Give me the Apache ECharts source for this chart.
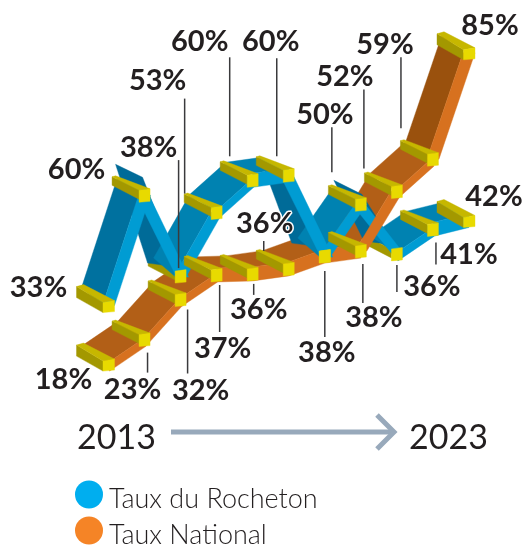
<!DOCTYPE html>
<html><head><meta charset="utf-8">
<style>html,body{margin:0;padding:0;background:#fff}#c{width:524px;height:547px}</style>
<script src="https://cdn.jsdelivr.net/npm/echarts@6/dist/echarts.min.js"></script>
</head><body><div id="c"></div>
<script>
// ---- data ----
const years = [2013,2014,2015,2016,2017,2018,2019,2020,2021,2022,2023];
const tauxRocheton = [33,60,38,53,60,60,38,50,36,41,42];
const tauxNational = [18,23,32,37,36,36,38,38,52,59,85];
const seriesNames = ['Taux du Rocheton','Taux National'];
const firstYearLabel = '2013', lastYearLabel = '2023';

// ---- layout (pixel offsets from each node, not data) ----
const labelOffsetsBlue = [[-70,-19],[-68,-27],[-32,-129],[-59,-133],[-53,-140],[-18,-135],[2,96],[-36,-91],[35,32],[36,24],[25,-25]];
const labelOffsetsOrange = [[-45,15],[-12,49],[20,90],[6,73],[6,35],[-24,-46],null,[13,66],[-52,-116],[-48,-116],[21,-28]];
const leadersBlue = [null,null,[-2,-117,-9],[-32,-115,-20],[-23,-124,-25],[-12,-118,-20],[0,14,80],[-29,-78,-33],[0,10,37],[3,12,34],null];
const leadersOrange = [null,[3,12,32],[7,9,73],[3,9,56],[1,9,20],[-25,-29,-19],null,[2,12,51],[-33,-103,-24],[-32,-103,-32],null];

const drift = 1.282;            // oblique projection: the floor climbs with each year
const FACE_BACK = [-27,-19];
const palette = {
  blue:  {face:'#0082B1', steep:'#00719F', back:'#006B98', strip:'#009CD3', legend:'#00AEEF'},
  orange:{face:'#B25F17', steep:'#9A510D', back:'#9A510D', strip:'#D7711F', legend:'#F58426'}
};
const FONT = 'Lato';

function add(p,o){return [p[0]+o[0],p[1]+o[1]];}
function poly(points,fill,z2){
  return {type:'polygon',z2:z2,silent:true,shape:{points:points},style:{fill:fill,stroke:fill,lineWidth:0.4}};
}
function makeRender(values,other,key,labels,leaders,isBlue){
  const col = palette[key];
  return function(params,api){
    const i = params.dataIndex, x = api.value(0), v = api.value(1);
    const pt = k => api.coord([k, values[k] + k*drift]);
    const C = pt(x);
    const out = [];
    const dyOf = k => pt(k+1)[1] - pt(k)[1];
    if(i < values.length-1){
      const Q = pt(x+1), dy = dyOf(i), rise = -dy;
      if(dy > 14){
        const prevRise = i>0 ? -dyOf(i-1) : 0;
        let s1 = [-27,-14], s2 = [-2,-4];
        if(prevRise > 80){ s1 = [-29,-32]; s2 = [-2,-19]; }
        else if(prevRise > 30){ s1 = [-27,-25]; s2 = [1,-11]; }
        out.push(poly([add(C,s1),add(C,s2),add(Q,[-3,-10]),add(Q,[-33,-14])],col.back,isBlue?10:4));
        out.push(poly([add(C,[-8,0]),add(Q,[-4,0]),add(Q,[8,0]),add(C,[5,0])],col.strip,isBlue?13:6));
      } else {
        let F, T;
        if(rise <= 14){ F=[0,-8]; T=[0,14]; }
        else if(rise < 50){ F=[-1,-2]; T=[2,8]; }
        else { F=[-6,-1]; T=[12,0]; }
        out.push(poly([add(C,FACE_BACK),add(Q,FACE_BACK),add(Q,F),add(C,F)],rise>80?col.steep:col.face,isBlue?11:5));
        const z = isBlue?12:(i>=7?14:6);
        out.push(poly([add(C,F),add(Q,F),add(add(Q,F),T),add(add(C,F),T)],col.strip,z));
      }
    }
    const shared = other[i] === values[i];
    const isEnd = i===0 || i===values.length-1;
    const afterFall = i>0 && dyOf(i-1) > 14;
    if(!shared){
      const zb = afterFall ? 9 : 20;
      if(isEnd){
        out.push(poly([add(C,[-5.5,-4]),add(C,[-5.5,6]),add(C,[-32,-9]),add(C,[-32,-20])],'#A39800',zb));
        out.push(poly([add(C,[-32,-20]),add(C,[-25,-22]),add(C,[6,-6]),add(C,[-5.5,-4])],'#C6B700',zb));
      } else {
        out.push(poly([add(C,[-5.5,-6]),add(C,[-5.5,3]),add(C,[-32.5,-11]),add(C,[-32.5,-19.5])],'#A39800',zb));
        out.push(poly([add(C,[-32.5,-19.5]),add(C,[-29,-20.5]),add(C,[5.5,-7.5]),add(C,[-5.5,-6])],'#C6B700',zb));
      }
    }
    out.push(poly(isEnd ? [add(C,[-5.5,-4]),add(C,[6,-6]),add(C,[6,5]),add(C,[-5.5,6])]
                        : [add(C,[-5.5,-6]),add(C,[5.5,-7.5]),add(C,[5.5,5]),add(C,[-5.5,6])],'#E8DA00',21));
    const lead = leaders[i];
    if(lead){
      out.push({type:'line',z2:25,silent:true,shape:{x1:C[0]+lead[0],y1:C[1]+lead[1],x2:C[0]+lead[0],y2:C[1]+lead[2]},style:{stroke:'#3A3A3C',lineWidth:1.5}});
    }
    const lab = labels[i];
    if(lab){
      out.push({type:'text',z2:26,silent:true,style:{x:C[0]+lab[0],y:C[1]+lab[1],text:v+'%',fill:'#231F20',fontFamily:FONT,fontWeight:'bold',fontSize:29,align:'center',verticalAlign:'middle',stroke:'#fff',lineWidth:3}});
    }
    return {type:'group',children:out};
  };
}
const chart = echarts.init(document.getElementById('c'),null,{renderer:'canvas'});
chart.setOption({
  animation:false,
  grid:{left:108.5,top:45.3,width:360.5,height:390,containLabel:false},
  xAxis:{type:'value',min:0,max:10,show:false},
  yAxis:{type:'value',min:0,max:100,show:false},
  legend:{
    left:75,top:476,height:100,orient:'vertical',itemWidth:28,itemHeight:28,itemGap:-1,icon:'circle',padding:0,
    formatter:'{t|{name}}',
    textStyle:{rich:{t:{fontFamily:FONT,fontSize:27,lineHeight:28,padding:[10,0,0,1],color:'#231F20',fontWeight:300}}},
    data:[{name:seriesNames[0],itemStyle:{color:palette.blue.legend}},{name:seriesNames[1],itemStyle:{color:palette.orange.legend}}]
  },
  series:[
    {type:'custom',name:seriesNames[1],z:2,clip:false,itemStyle:{color:palette.orange.legend},encode:{x:0,y:1},
     data:tauxNational.map((v,i)=>[i,v,years[i]]),
     renderItem:makeRender(tauxNational,tauxRocheton,'orange',labelOffsetsOrange,leadersOrange,false)},
    {type:'custom',name:seriesNames[0],z:2,clip:false,itemStyle:{color:palette.blue.legend},encode:{x:0,y:1},
     data:tauxRocheton.map((v,i)=>[i,v,years[i]]),
     renderItem:makeRender(tauxRocheton,tauxNational,'blue',labelOffsetsBlue,leadersBlue,true)}
  ],
  graphic:[
    {type:'text',left:77,top:421,style:{text:firstYearLabel,fill:'#231F20',fontFamily:FONT,fontSize:34}},
    {type:'text',left:409,top:421,style:{text:lastYearLabel,fill:'#231F20',fontFamily:FONT,fontSize:34}},
    {type:'line',shape:{x1:171,y1:432,x2:394,y2:432},style:{stroke:'#98A9BB',lineWidth:5}},
    {type:'polyline',shape:{points:[[377,415],[394,432],[377,449]]},style:{stroke:'#98A9BB',lineWidth:5,fill:null}}
  ]
});
</script></body></html>
